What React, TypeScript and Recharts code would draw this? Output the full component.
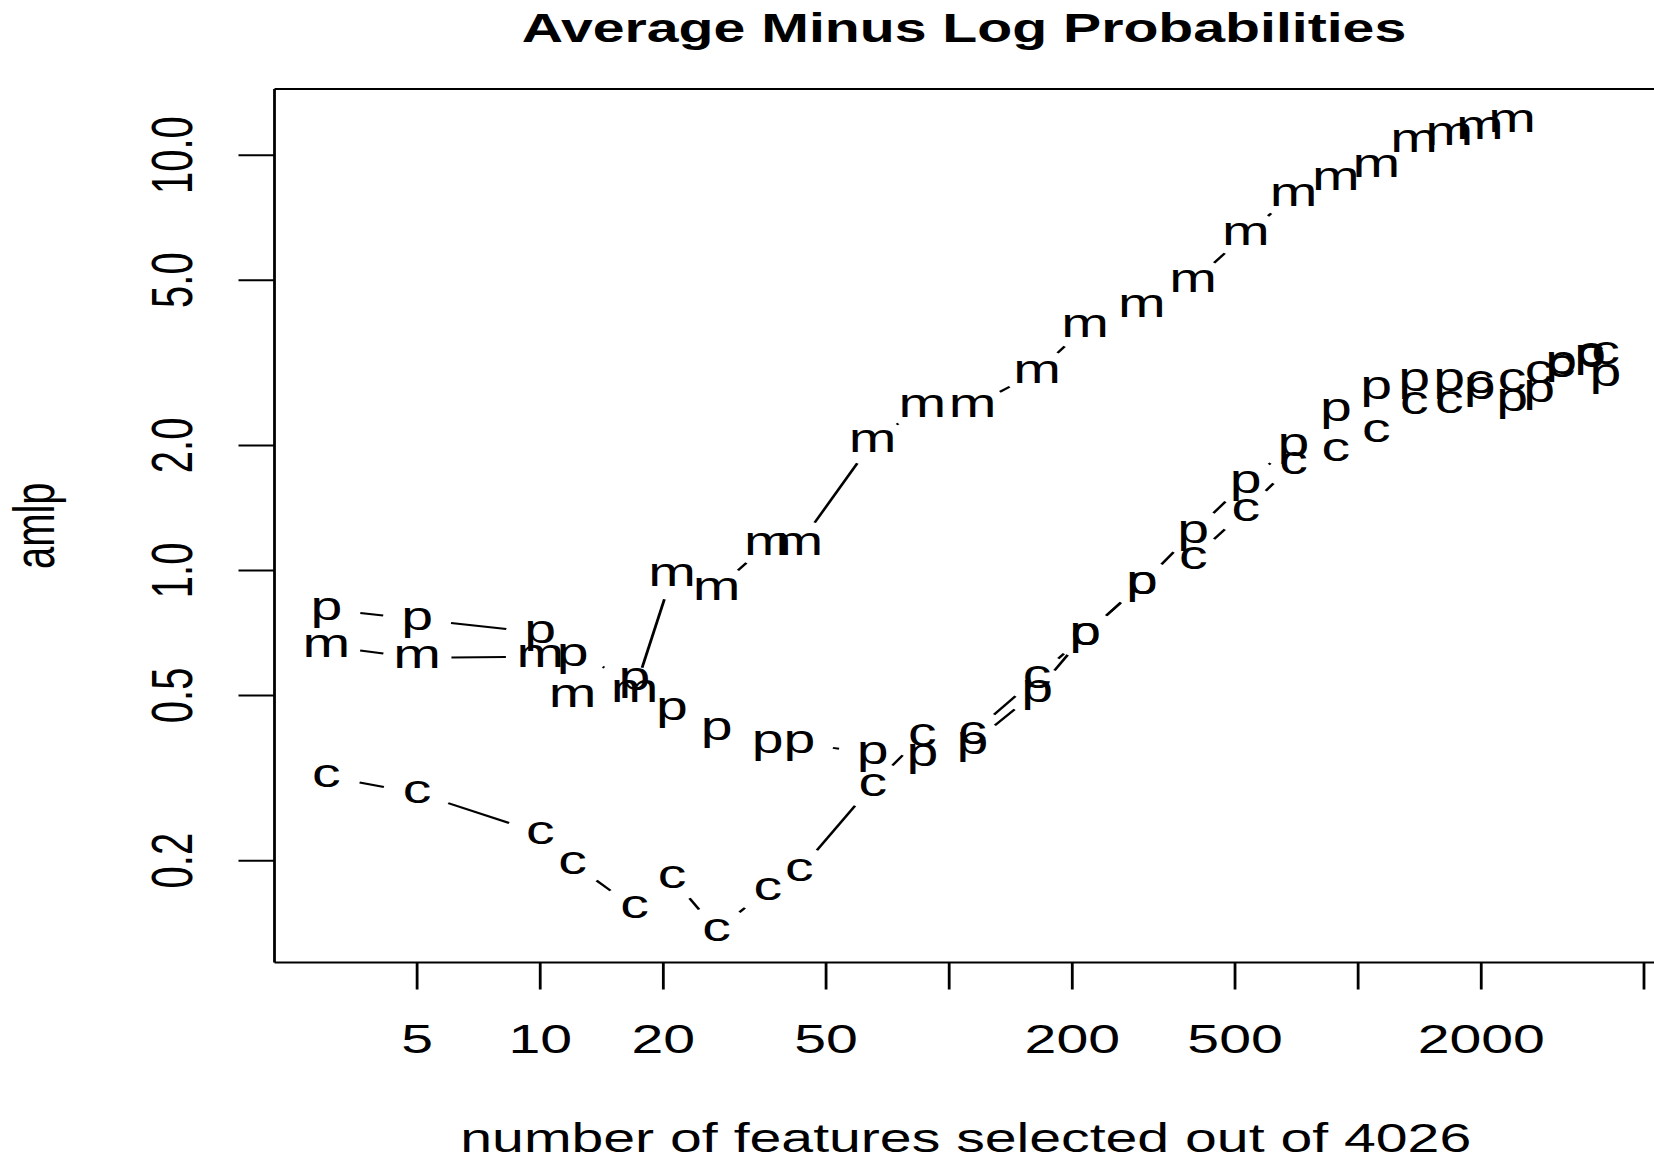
import React from 'react';
import { ComposedChart, Line, XAxis, YAxis, ReferenceLine, Label } from 'recharts';

// number of features selected (x) and average minus log probabilities per method
const features = [3, 5, 10, 12, 17, 21, 27, 36, 43, 65, 86, 114, 164, 215, 296, 395, 531, 695, 882, 1107, 1371, 1670, 1983, 2380, 2771, 3136, 3693, 4026];
const amlpM = [0.657, 0.616, 0.62, 0.498, 0.512, 0.97, 0.901, 1.157, 1.157, 2.04, 2.484, 2.484, 3.0, 3.855, 4.31, 4.95, 6.45, 8.01, 8.71, 9.38, 10.77, 11.18, 11.61, 12.04, null, null, null, null];
const amlpP = [0.806, 0.763, 0.708, 0.625, 0.547, 0.463, 0.414, 0.384, 0.384, 0.362, 0.358, 0.383, 0.512, 0.702, 0.927, 1.234, 1.63, 2.0, 2.43, 2.74, 2.87, 2.87, 2.74, 2.56, 2.7, 3.15, 3.27, 2.95];
const amlpC = [0.319, 0.291, 0.233, 0.197, 0.154, 0.182, 0.136, 0.17, 0.189, 0.304, 0.4, 0.405, 0.552, 0.7, 0.93, 1.07, 1.395, 1.805, 1.94, 2.16, 2.52, 2.54, 2.84, 2.87, 3.0, 3.1, 3.3, 3.33];

const xTicks = [5, 10, 20, 50, 100, 200, 500, 1000, 2000, 5000];
const xTickLabels = [5, 10, 20, 50, 200, 500, 2000];
const yTicks = [0.2, 0.5, 1, 2, 5, 10];

const xDomain = [2.24, 5380];
const yDomain = [0.1137, 14.43];

const data = features.map((x, i) => ({ x, m: amlpM[i], p: amlpP[i], c: amlpC[i] }));

// the original picture is stretched sideways, so text and strokes are too
const SX = 1.43;
const FONT = 40;
const GAP = 24;
const FAMILY = '"Liberation Sans", Arial, Helvetica, sans-serif';

const letterDot = (letter: string) => (props: any) => {
  const { cx, cy, index, points } = props;
  const key = `${letter}-${index}`;
  if (cx == null || cy == null || Number.isNaN(cy)) return <g key={key} />;
  const next = points ? points[index + 1] : null;
  let seg = null;
  if (next && next.x != null && next.y != null) {
    const dx = next.x - cx;
    const dy = next.y - cy;
    const f = GAP / Math.hypot(dx / SX, dy);
    if (f < 0.5) {
      seg = (
        <line
          x1={(f * dx) / SX}
          y1={cy + f * dy}
          x2={((1 - f) * dx) / SX}
          y2={cy + (1 - f) * dy}
          transform={`translate(${cx},0) scale(${SX},1)`}
          stroke="#000"
          strokeWidth={2}
        />
      );
    }
  }
  return (
    <g key={key}>
      {seg}
      <text
        transform={`translate(${cx},${cy}) scale(${SX},1)`}
        textAnchor="middle"
        dy="0.26em"
        fontSize={FONT}
        fontFamily={FAMILY}
        fill="#000"
      >
        {letter}
      </text>
    </g>
  );
};

const XTick = ({ x, y, payload }: any) => {
  if (!xTickLabels.includes(payload.value)) return <g />;
  return (
    <text transform={`translate(${x},${y + 63.5}) scale(${SX},1)`} textAnchor="middle" fontSize={FONT} fontFamily={FAMILY} fill="#000">
      {payload.value}
    </text>
  );
};

const YTick = ({ x, y, payload }: any) => (
  <text transform={`translate(${x - 47},${y}) scale(${SX},1) rotate(-90)`} textAnchor="middle" fontSize={FONT} fontFamily={FAMILY} fill="#000">
    {payload.value.toFixed(1)}
  </text>
);

const XTitle = ({ viewBox }: any) => (
  <text
    transform={`translate(${viewBox.x + viewBox.width / 2},${viewBox.y + 189.5}) scale(${SX},1)`}
    textAnchor="middle"
    fontSize={FONT}
    fontFamily={FAMILY}
    fill="#000"
  >
    number of features selected out of 4026
  </text>
);

const YTitle = ({ viewBox }: any) => (
  <text
    transform={`translate(54,${viewBox.y + viewBox.height / 2}) scale(${SX},1) rotate(-90)`}
    textAnchor="middle"
    fontSize={FONT}
    fontFamily={FAMILY}
    fill="#000"
  >
    amlp
  </text>
);

export default function App() {
  return (
    <div style={{ position: 'absolute', left: 0, top: 0, width: 1654, height: 1158, overflow: 'hidden', background: '#fff' }}>
      <ComposedChart width={1660} height={1158} data={data} margin={{ top: 89, right: 3, bottom: 0, left: 0 }}>
        <text
          transform={`translate(964,42) scale(${SX},1)`}
          textAnchor="middle"
          fontSize={FONT}
          fontWeight="bold"
          fontFamily={FAMILY}
          fill="#000"
        >
          Average Minus Log Probabilities
        </text>
        <XAxis
          dataKey="x"
          type="number"
          scale="log"
          domain={xDomain}
          ticks={xTicks}
          interval={0}
          height={195.5}
          tickSize={27}
          tickMargin={0}
          tick={<XTick />}
          tickLine={{ stroke: '#000', strokeWidth: 2.8 }}
          axisLine={{ stroke: '#000', strokeWidth: 2 }}
        >
          <Label content={<XTitle />} />
        </XAxis>
        <YAxis
          type="number"
          scale="log"
          domain={yDomain}
          ticks={yTicks}
          interval={0}
          width={274.5}
          tickSize={36}
          tickMargin={0}
          tick={<YTick />}
          tickLine={{ stroke: '#000', strokeWidth: 2 }}
          axisLine={{ stroke: '#000', strokeWidth: 2.8 }}
        >
          <Label content={<YTitle />} />
        </YAxis>
        <ReferenceLine y={yDomain[1]} stroke="#000" strokeWidth={2} />
        <Line dataKey="m" stroke="none" fill="none" isAnimationActive={false} dot={letterDot('m')} activeDot={false} />
        <Line dataKey="p" stroke="none" fill="none" isAnimationActive={false} dot={letterDot('p')} activeDot={false} />
        <Line dataKey="c" stroke="none" fill="none" isAnimationActive={false} dot={letterDot('c')} activeDot={false} />
      </ComposedChart>
    </div>
  );
}
